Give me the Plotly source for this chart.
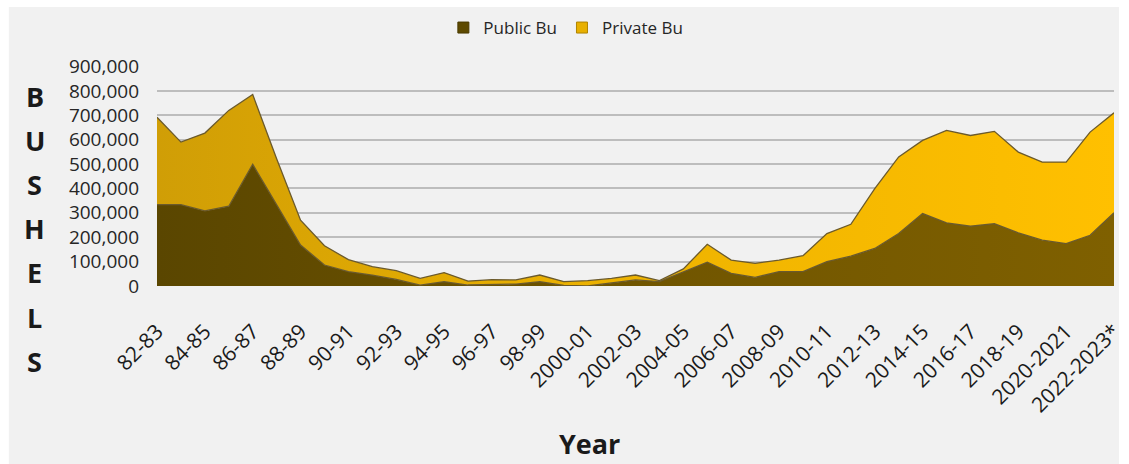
import plotly.graph_objects as go

categories = [
    "82-83", "83-84", "84-85", "85-86", "86-87", "87-88", "88-89", "89-90",
    "90-91", "91-92", "92-93", "93-94", "94-95", "95-96", "96-97", "97-98",
    "98-99", "99-00", "2000-01", "2001-02", "2002-03", "2003-04", "2004-05",
    "2005-06", "2006-07", "2007-08", "2008-09", "2009-10", "2010-11", "2011-12",
    "2012-13", "2013-14", "2014-15", "2015-16", "2016-17", "2017-18", "2018-19",
    "2019-20", "2020-2021", "2021-2022", "2022-2023*",
]

public_bu = [
    334000, 334000, 308000, 327000, 499000, 331000, 168000, 86000,
    59000, 45000, 27000, 4000, 18000, 4000, 6000, 8000,
    18000, 2000, 0, 14000, 25000, 18000, 58000,
    98000, 52000, 35000, 59000, 59000, 100000, 122000,
    154000, 215000, 297000, 259000, 245000, 256000, 218000,
    188000, 174000, 208000, 300000,
]

private_bu = [
    358000, 256000, 319000, 393000, 286000, 191000, 102000, 79000,
    49000, 34000, 36000, 27000, 37000, 16000, 20000, 17000,
    27000, 16000, 22000, 17000, 20000, 4000, 12000,
    73000, 54000, 58000, 47000, 65000, 115000, 131000,
    245000, 314000, 300000, 379000, 372000, 378000, 331000,
    320000, 334000, 423000, 410000,
]

tick_labels = categories[::2]
y_ticks = [0, 100000, 200000, 300000, 400000, 500000, 600000, 700000, 800000, 900000]

# layout geometry (pixels)
W, H = 1129, 464
L, R, T, B = 157, 3, 66, 178
PW, PH = W - L - R, H - T - B


def px_x(px):
    return (px - L) / PW


def px_y(py):
    return (H - B - py) / PH


fig = go.Figure()

outline = "#6b5a2c"

fig.add_trace(go.Scatter(
    x=categories, y=public_bu, name="Public Bu", stackgroup="one",
    mode="lines", line=dict(color=outline, width=1.3),
    fillgradient=dict(type="horizontal",
                      colorscale=[[0, "#5a4600"], [0.5, "#705500"], [1, "#7f6000"]]),
    fillcolor="#745900", showlegend=False,
))
fig.add_trace(go.Scatter(
    x=categories, y=private_bu, name="Private Bu", stackgroup="one",
    mode="lines", line=dict(color=outline, width=1.3),
    fillgradient=dict(type="horizontal",
                      colorscale=[[0, "#d09e06"], [0.5, "#eeb300"], [1, "#ffc000"]]),
    fillcolor="#f0b400", showlegend=False,
))

# legend swatches
fig.add_trace(go.Scatter(
    x=[None], y=[None], name="Public Bu", mode="markers",
    marker=dict(symbol="square", size=11, color="#5e4a00",
                line=dict(color="#4a3a00", width=1)),
))
fig.add_trace(go.Scatter(
    x=[None], y=[None], name="Private Bu", mode="markers",
    marker=dict(symbol="square", size=11, color="#e8b000",
                line=dict(color="#b08400", width=1)),
))

font_family = "Open Sans, Noto Sans, DejaVu Sans, sans-serif"

annotations = []
letters = ["B", "U", "S", "H", "E", "L", "S"]
for k, ch in enumerate(letters):
    annotations.append(dict(
        text=ch, xref="paper", yref="paper",
        x=px_x(33), y=px_y(96 + k * 44.2),
        showarrow=False, xanchor="center", yanchor="middle",
        font=dict(family=font_family, size=27, color="#1a1a1a", weight="bold"),
    ))
annotations.append(dict(
    text="Year", xref="paper", yref="paper",
    x=px_x(595), y=px_y(443), showarrow=False,
    xanchor="center", yanchor="middle",
    font=dict(family=font_family, size=27, color="#1a1a1a", weight="bold"),
))

fig.update_layout(
    width=W, height=H,
    margin=dict(l=L, r=R, t=T, b=B, pad=0),
    paper_bgcolor="white",
    plot_bgcolor="#f1f1f1",
    font=dict(family=font_family, color="#262626"),
    shapes=[dict(
        type="rect", xref="paper", yref="paper", layer="below",
        x0=px_x(7), x1=px_x(W + 2), y0=px_y(7), y1=px_y(H + 2),
        fillcolor="#f1f1f1", line=dict(width=0),
    )],
    annotations=annotations,
    legend=dict(
        orientation="h", x=px_x(571), y=px_y(28),
        xanchor="center", yanchor="middle",
        font=dict(size=17, color="#262626"),
        bgcolor="rgba(0,0,0,0)", traceorder="normal",
        itemwidth=30,
    ),
    xaxis=dict(
        type="category", range=[0, len(categories) - 1],
        tickmode="array", tickvals=tick_labels, ticktext=tick_labels,
        tickangle=-45, showgrid=False, zeroline=False, showline=False,
        ticks="", ticklabelstandoff=28,
        tickfont=dict(size=21, color="#1a1a1a"),
    ),
    yaxis=dict(
        range=[0, 902000], tickmode="array", tickvals=y_ticks,
        tickformat=",", showgrid=True, gridcolor="#bdbdbd", gridwidth=1.6,
        zeroline=False, showline=False, ticks="", ticklabelstandoff=17,
        tickfont=dict(size=19, color="#262626"),
    ),
)

fig.write_html("out.html")
